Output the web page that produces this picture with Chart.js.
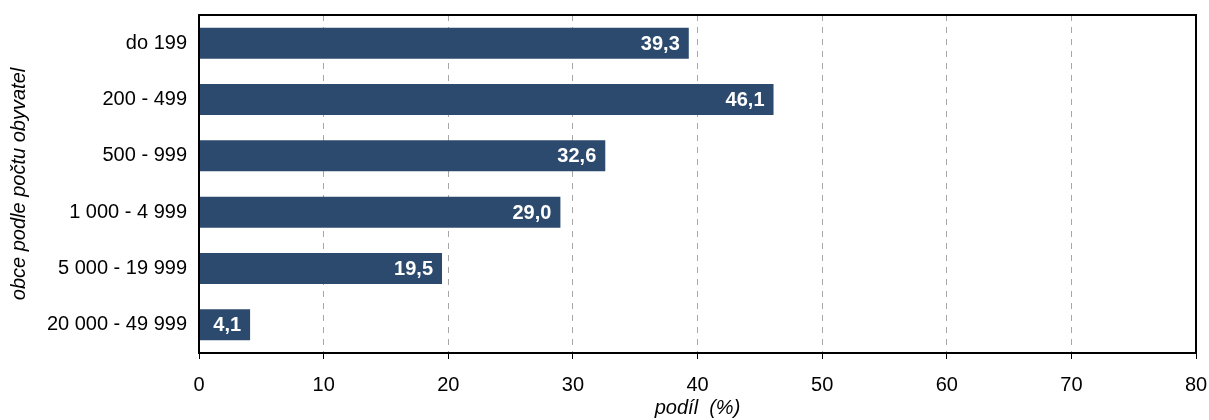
<!DOCTYPE html>
<html>
<head>
<meta charset="utf-8">
<script src="https://cdn.jsdelivr.net/npm/chart.js@4"></script>
<style>
html,body{margin:0;padding:0;background:#fff;}
#wrap{width:1209px;height:420px;position:relative;}
</style>
</head>
<body>
<div id="wrap"><canvas id="c"></canvas></div>
<script>
const categories = ["do 199", "200 - 499", "500 - 999", "1 000 - 4 999", "5 000 - 19 999", "20 000 - 49 999"];
const values = [39.3, 46.1, 32.6, 29.0, 19.5, 4.1];
const xTicks = [0, 10, 20, 30, 40, 50, 60, 70, 80];
const xTitle = "podíl  (%)";
const yTitle = "obce podle počtu obyvatel";

const FONT = "'Liberation Sans', Arial, sans-serif";

const boxPlugin = {
  id: 'box',
  afterDraw(chart) {
    const {ctx, chartArea: a} = chart;
    ctx.save();
    ctx.strokeStyle = '#000';
    ctx.lineWidth = 2;
    ctx.strokeRect(a.left, a.top, a.right - a.left, a.bottom - a.top);
    ctx.restore();
  }
};

const labelPlugin = {
  id: 'barLabels',
  afterDatasetsDraw(chart) {
    const {ctx} = chart;
    const meta = chart.getDatasetMeta(0);
    ctx.save();
    ctx.fillStyle = '#fff';
    ctx.font = "bold 20px " + FONT;
    ctx.textAlign = 'right';
    ctx.textBaseline = 'middle';
    meta.data.forEach((bar, i) => {
      const txt = values[i].toFixed(1).replace('.', ',');
      ctx.fillText(txt, bar.x - 9, bar.y + 1);
    });
    ctx.restore();
  }
};

new Chart(document.getElementById('c'), {
  type: 'bar',
  data: {
    labels: categories,
    datasets: [{
      data: values,
      backgroundColor: '#2c4a6e',
      borderWidth: 0,
      barPercentage: 0.55,
      categoryPercentage: 1.0
    }]
  },
  options: {
    indexAxis: 'y',
    responsive: true,
    maintainAspectRatio: false,
    animation: false,
    devicePixelRatio: 1,
    layout: {padding: {left: 0, right: 13, top: 15, bottom: 0}},
    plugins: {legend: {display: false}, tooltip: {enabled: false}},
    scales: {
      x: {
        min: 0, max: 80,
        afterBuildTicks(scale) { scale.ticks = xTicks.map(v => ({value: v})); },
        afterFit(scale) { scale.height = 67; scale.paddingLeft = 0; scale.paddingRight = 0; },
        border: {display: false, dash: [6, 6]},
        grid: {
          color: '#a8a8a8',
          lineWidth: 1,
          tickColor: '#000',
          tickLength: 6,
          tickWidth: 1,
          tickBorderDash: [],
        },
        ticks: {
          color: '#000',
          font: {family: FONT, size: 20},
          padding: 14,
          maxRotation: 0
        },
        title: {
          display: true,
          text: xTitle,
          color: '#000',
          font: {family: FONT, size: 20, style: 'italic'},
          padding: {top: 0, bottom: 0}
        }
      },
      y: {
        afterFit(scale) { scale.width = 199; scale.paddingTop = 0; scale.paddingBottom = 0; },
        border: {display: false},
        grid: {display: false, drawTicks: false},
        ticks: {
          color: '#000',
          font: {family: FONT, size: 20},
          padding: 12
        },
        title: {
          display: true,
          text: yTitle,
          color: '#000',
          font: {family: FONT, size: 20, style: 'italic'},
          padding: {top: 7, bottom: 0}
        }
      }
    }
  },
  plugins: [boxPlugin, labelPlugin]
});
</script>
</body>
</html>
